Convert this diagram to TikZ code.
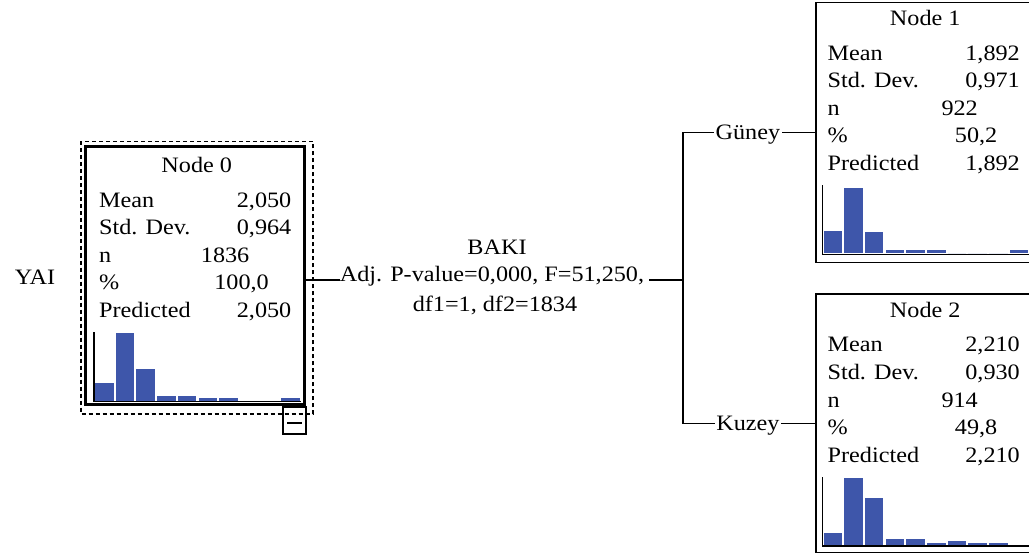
\documentclass[tikz,border=0pt]{standalone}
\usepackage{fontspec}
\setmainfont{Liberation Serif}[FakeStretch=1.1]
\usetikzlibrary{calc}
\definecolor{barblue}{RGB}{62,86,170}
\tikzset{
  txt/.style={inner sep=0pt, font=\fontsize{22bp}{26bp}\selectfont},
  lbl/.style={txt, anchor=base west},
  val/.style={txt, anchor=base east},
  ttl/.style={txt, anchor=base},
  nodebox/.style={draw, rectangle, minimum width=218.5bp, outer sep=0pt, inner sep=0pt},
  conn/.style={line width=1.5bp},
  brlab/.style={txt, fill=white, inner xsep=1.5bp, text height=17bp, text depth=3.5bp},
  histaxis/.style={line width=1.5bp},
}
\newcommand\treecontent[9]{%
  \begin{scope}[shift={(#2,#3)}]
    \node[ttl] (#1-title) at (109.25,23.5) {#4};
    \node[lbl] (#1-l1) at (11.5,58) {Mean};
    \node[val] (#1-v1) at (204,58) {#5};
    \node[lbl] (#1-l2) at (11.5,85.5) {Std. Dev.};
    \node[val] (#1-v2) at (204,85.5) {#6};
    \node[lbl] (#1-l3) at (11.5,113) {n};
    \node[val] (#1-v3) at (162,113) {#7};
    \node[lbl] (#1-l4) at (11.5,140.5) {\%};
    \node[val] (#1-v4) at (181.5,140.5) {#8};
    \node[lbl] (#1-l5) at (11.5,168) {Predicted};
    \node[val] (#1-v5) at (204,168) {#5};
    \foreach \h [count=\i from 0] in {#9} {\fill[barblue] ({7.5+\i*20.7},251) rectangle ++(18.5,-\h);}
    \draw[histaxis] (6.5,183) -- (6.5,252) -- (213,252);
  \end{scope}}
\begin{document}
\begin{tikzpicture}[x=1bp,y=-1bp]
\useasboundingbox (0,0) rectangle (1029,557);
% boxes
\node[nodebox, line width=3bp, minimum height=257.5bp] (n0) at (195.25,275.75) {};
\node[nodebox, line width=1.6bp, minimum height=260bp] (n1) at (925.25,132.5) {};
\node[nodebox, line width=1.6bp, minimum height=258.5bp] (n2) at (925.25,423.25) {};
% contents
\treecontent{c0}{87.5}{149.5}{Node 0}{2,050}{0,964}{1836}{100,0}{18,67,32,5,5,3,3,0,0,3}
\treecontent{c1}{816}{2.5}{Node 1}{1,892}{0,971}{922}{50,2}{22,65,21,3,3,3,0,0,0,3}
\treecontent{c2}{816}{294}{Node 2}{2,210}{0,930}{914}{49,8}{12,67,47,6,6,2,4,2,2,0}
% selection frame and collapse button
\draw[line width=1.2bp, dash pattern=on 4bp off 3bp] (81,141.5) rectangle (313,414);
\node[draw, line width=1.2bp, minimum width=23bp, minimum height=27bp, inner sep=0pt, outer sep=0pt] (collapse) at (294.5,420.5) {};
\draw[line width=1.5bp] ($(collapse.center)+(-7.5,2.5)$) -- ++(15,0);
% labels
\node[txt] (yai) at (35,277) {YAI};
\node[txt] (baki) at (497,247) {BAKI};
\node[txt, anchor=base] (adj) at (492,281.5) {Adj. P-value=0,000, F=51,250,};
\node[txt] (df) at (495,305) {df1=1, df2=1834};
% connectors
\coordinate (split) at (683,280);
\draw[conn] (n0.east |- split) -- (adj.west |- split);
\draw[conn, shorten <=5bp] (adj.east |- split) -- (split);
\draw[conn] (split) |- node[brlab, pos=0.744] (guney) {Güney} (n1.west);
\draw[conn] (split) |- node[brlab, pos=0.744] (kuzey) {Kuzey} (n2.west);
\end{tikzpicture}
\end{document}
